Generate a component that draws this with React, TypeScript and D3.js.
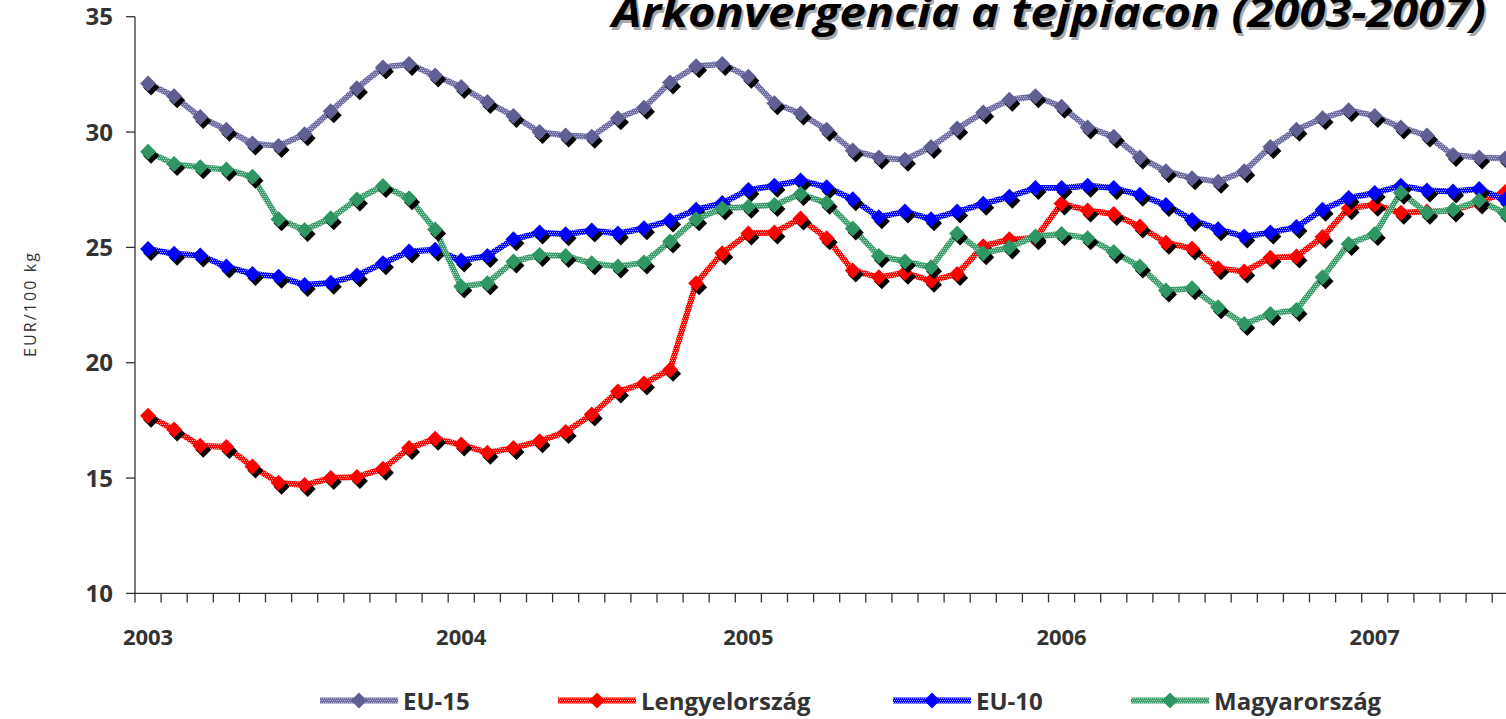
import React from 'react';
import * as d3 from 'd3';

const categories = [
  '2003', '', '', '', '', '', '', '', '', '', '', '',
  '2004', '', '', '', '', '', '', '', '', '', '',
  '2005', '', '', '', '', '', '', '', '', '', '', '',
  '2006', '', '', '', '', '', '', '', '', '', '', '',
  '2007', '', '', '', '', '',
];

const seriesNames = ['EU-15', 'Lengyelország', 'EU-10', 'Magyarország'];

const eu15 = [32.1, 31.55, 30.65, 30.1, 29.5, 29.4, 29.9, 30.9, 31.9, 32.8, 32.95, 32.45, 31.95, 31.3, 30.7, 30.0, 29.85, 29.8, 30.6, 31.05, 32.15, 32.85, 32.95, 32.4, 31.25, 30.8, 30.1, 29.2, 28.9, 28.8, 29.35, 30.15, 30.85, 31.4, 31.55, 31.1, 30.2, 29.8, 28.9, 28.3, 28.0, 27.85, 28.3, 29.35, 30.1, 30.6, 30.95, 30.7, 30.2, 29.85, 29.0, 28.9, 28.85];
const lengyel = [17.7, 17.1, 16.4, 16.35, 15.5, 14.8, 14.7, 15.0, 15.05, 15.4, 16.3, 16.7, 16.45, 16.1, 16.3, 16.6, 17.0, 17.75, 18.75, 19.1, 19.7, 23.45, 24.75, 25.6, 25.65, 26.25, 25.4, 24.0, 23.7, 23.9, 23.55, 23.85, 25.05, 25.35, 25.4, 26.9, 26.6, 26.45, 25.9, 25.2, 24.95, 24.1, 23.95, 24.55, 24.6, 25.45, 26.7, 26.85, 26.5, 26.55, 26.6, 26.95, 27.4];
const eu10 = [24.93, 24.72, 24.65, 24.17, 23.85, 23.73, 23.37, 23.47, 23.78, 24.31, 24.82, 24.9, 24.43, 24.63, 25.35, 25.64, 25.57, 25.73, 25.6, 25.83, 26.16, 26.63, 26.92, 27.49, 27.67, 27.9, 27.61, 27.09, 26.31, 26.55, 26.22, 26.55, 26.89, 27.2, 27.57, 27.57, 27.67, 27.57, 27.28, 26.84, 26.19, 25.79, 25.47, 25.64, 25.88, 26.63, 27.14, 27.36, 27.67, 27.47, 27.42, 27.53, 27.06];
const magyar = [29.15, 28.61, 28.47, 28.38, 28.06, 26.22, 25.75, 26.26, 27.08, 27.66, 27.13, 25.78, 23.3, 23.45, 24.39, 24.67, 24.63, 24.31, 24.17, 24.34, 25.25, 26.22, 26.69, 26.76, 26.84, 27.31, 26.93, 25.82, 24.63, 24.39, 24.14, 25.6, 24.75, 25.0, 25.47, 25.58, 25.4, 24.8, 24.17, 23.13, 23.23, 22.4, 21.68, 22.11, 22.29, 23.71, 25.15, 25.58, 27.37, 26.5, 26.63, 27.03, 26.48];

const yTicks = [10, 15, 20, 25, 30, 35];
const titleText = 'Árkonvergencia a tejpiacon (2003-2007)';
const yTitle = 'EUR/100 kg';

const W = 1506;
const H = 719;
const FONT = "'Open Sans', 'Noto Sans', sans-serif";

const styles = [
  { id: 'p0', base: '#6b6b9f', light: '#b8b8da', marker: '#5f5f93' },
  { id: 'p1', base: '#ff0000', light: '#ffa0a0', marker: '#ff0000' },
  { id: 'p2', base: '#0000ff', light: '#a0a0ff', marker: '#0000ff' },
  { id: 'p3', base: '#3a9a6a', light: '#a8dac0', marker: '#2f9663' },
];

const legendPos = [
  { x1: 320, x2: 398 },
  { x1: 558, x2: 636 },
  { x1: 893, x2: 971 },
  { x1: 1131, x2: 1209 },
];

export default function App() {
  const data = [eu15, lengyel, eu10, magyar];
  const x = d3
    .scaleBand<number>()
    .domain(d3.range(categories.length))
    .range([135, 135 + categories.length * 26.1])
    .padding(0);
  const y = d3.scaleLinear().domain([10, 35]).range([593.4, 16.7]);
  const cx = (i: number) => (x(i) as number) + x.bandwidth() / 2;
  const line = d3
    .line<number>()
    .x((_, i) => cx(i))
    .y((d) => y(d));
  const diamond = d3.symbol().type(d3.symbolSquare).size(128)() as string;
  const x0 = 135;
  const yBase = y(10);

  return (
    <svg
      width={W}
      height={H}
      style={{ position: 'absolute', left: 0, top: 0, background: '#fff' }}
    >
      <defs>
        {styles.map((s) => (
          <pattern key={s.id} id={s.id} width={4} height={4} patternUnits="userSpaceOnUse">
            <rect width={4} height={4} fill={s.base} />
            <rect x={0} y={0} width={1} height={1} fill={s.light} />
            <rect x={2} y={0} width={1} height={1} fill={s.light} />
            <rect x={1} y={2} width={1} height={1} fill={s.light} />
            <rect x={3} y={2} width={1} height={1} fill={s.light} />
          </pattern>
        ))}
      </defs>
      <rect width={W} height={H} fill="#fff" />

      {/* Title with shadow */}
      <text
        x={614}
        y={30}
        fontFamily={FONT}
        fontWeight={700}
        fontStyle="italic"
        fontSize={42}
        fill="#a8a8a8"
        textLength={874}
        lengthAdjust="spacingAndGlyphs"
      >
        {titleText}
      </text>
      <text
        x={612}
        y={27}
        fontFamily={FONT}
        fontWeight={700}
        fontStyle="italic"
        fontSize={42}
        fill="#000"
        textLength={874}
        lengthAdjust="spacingAndGlyphs"
      >
        {titleText}
      </text>

      {/* Y axis */}
      <line x1={x0} x2={x0} y1={y(35)} y2={yBase} stroke="#333" strokeWidth={1.3} />
      {yTicks.map((t) => (
        <g key={t}>
          <line x1={x0 - 9} x2={x0} y1={y(t)} y2={y(t)} stroke="#333" strokeWidth={1.3} />
          <text
            x={113}
            y={y(t) + 8.6}
            textAnchor="end"
            fontFamily={FONT}
            fontWeight={700}
            fontSize={24}
            fill="#333"
          >
            {t}
          </text>
        </g>
      ))}
      <text
        transform={`translate(36,${(y(35) + yBase) / 2}) rotate(-90)`}
        textAnchor="middle"
        fontFamily={FONT}
        fontSize={16}
        fill="#333"
        textLength={104}
        lengthAdjust="spacing"
      >
        {yTitle}
      </text>

      {/* X axis */}
      <line x1={x0} x2={W + 20} y1={yBase} y2={yBase} stroke="#333" strokeWidth={1.3} />
      {d3.range(categories.length + 1).map((k) => {
        const xx = k < categories.length ? (x(k) as number) : (x(k - 1) as number) + x.bandwidth();
        return (
          <line key={k} x1={xx} x2={xx} y1={yBase} y2={yBase + 9} stroke="#333" strokeWidth={1.3} />
        );
      })}
      {categories.map((c, i) =>
        c ? (
          <text
            key={i}
            x={cx(i)}
            y={645}
            textAnchor="middle"
            fontFamily={FONT}
            fontWeight={700}
            fontSize={22}
            fill="#333"
          >
            {c}
          </text>
        ) : null
      )}

      {/* Series */}
      {data.map((vals, si) => (
        <g key={si}>
          <path
            d={line(vals) as string}
            fill="none"
            stroke={`url(#${styles[si].id})`}
            strokeWidth={6}
            strokeLinejoin="round"
          />
          {vals.map((v, i) => (
            <path
              key={'s' + i}
              d={diamond}
              transform={`translate(${cx(i) + 3},${y(v) + 4}) rotate(45)`}
              fill="#000"
            />
          ))}
          {vals.map((v, i) => (
            <path
              key={'m' + i}
              d={diamond}
              transform={`translate(${cx(i)},${y(v)}) rotate(45)`}
              fill={styles[si].marker}
            />
          ))}
        </g>
      ))}

      {/* Legend */}
      {seriesNames.map((n, si) => {
        const p = legendPos[si];
        const ly = 700.5;
        return (
          <g key={n}>
            <line x1={p.x1} x2={p.x2} y1={ly} y2={ly} stroke={`url(#${styles[si].id})`} strokeWidth={6} />
            <path
              d={diamond}
              transform={`translate(${(p.x1 + p.x2) / 2},${ly}) rotate(45)`}
              fill={styles[si].marker}
            />
            <text
              x={p.x2 + 5}
              y={710}
              fontFamily={FONT}
              fontWeight={700}
              fontSize={24}
              fill="#333"
            >
              {n}
            </text>
          </g>
        );
      })}
    </svg>
  );
}
